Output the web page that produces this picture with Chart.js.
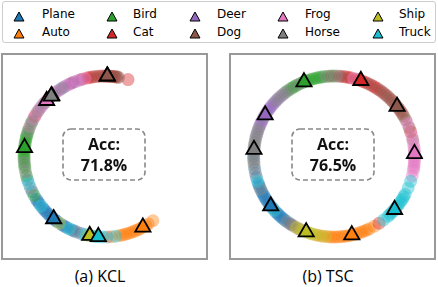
<!DOCTYPE html>
<html><head><meta charset="utf-8">
<script src="https://cdn.jsdelivr.net/npm/chart.js@4"></script>
<style>
body{margin:0;width:438px;height:287px;position:relative;background:#fff;overflow:hidden;font-family:"DejaVu Sans",sans-serif;}
#legend{position:absolute;left:2px;top:1px;width:432px;height:40px;border:1px solid #ccc;border-radius:3px;}
.lbl{position:absolute;font-size:12px;line-height:14px;color:#000;white-space:nowrap;}
.mk{position:absolute;}
.panel{position:absolute;top:53px;width:203px;height:203px;border:2px solid #999;}
.panel canvas{position:absolute;left:0;top:0;}
.accbox{position:absolute;top:128px;width:84px;height:53px;}
.acctxt{position:absolute;top:134px;width:84px;text-align:center;font-family:"Open Sans",sans-serif;font-weight:bold;font-size:16px;line-height:21px;color:#111;}
.cap{position:absolute;top:265px;width:120px;text-align:center;font-family:"Open Sans",sans-serif;font-size:16px;line-height:22px;color:#000;}
</style></head>
<body>
<div id="legend"></div>
<div class="panel" id="p0" style="left:1px"><canvas id="c0" width="203" height="203"></canvas></div>
<div class="panel" id="p1" style="left:229px"><canvas id="c1" width="203" height="203"></canvas></div>
<script>
// ---- data ----
const classNames = ['Plane','Auto','Bird','Cat','Deer','Dog','Frog','Horse','Ship','Truck'];
const classColors = ['#1f77b4','#ff7f0e','#2ca02c','#d62728','#9467bd','#8c564b','#e377c2','#7f7f7f','#bcbd22','#17becf'];
const methodNames = ['(a) KCL','(b) TSC'];
const accuracyLabels = ['71.8%','76.5%'];
// class-center angles on the ring (degrees, counter-clockwise from 3 o'clock)
const kclCenterAngle = [230.8, 298.5, 173.7, 88, 131, 88, 136, 131.4, 259.4, 265.6];
const tscCenterAngle = [218, 282.7, 112, 70.6, 149, 38.5, 2, 175, 249.7, 318.7];
// sample angles on the ring per class — KCL
const kclPlane = [197,206,212,214,216,220,222,224,226,228,230,232,234,238,240,242,246,248,253];
const kclAuto  = [275,281,283,285,287,289,291,293,295,297,299,301,303,307];
const kclBird  = [156,160,164,166,168,170,172,174,176,178,180,182,186,188,194,209];
const kclCat   = [73,82,83,85,87,89,92,94,98,100,102,106,114,150];
const kclDeer  = [108,112,116,120,124,128,132,142];
const kclDog   = [80,81,84,86,88,90,96];
const kclFrog  = [104,110,118,126,134,136,140,144,148,152,158];
const kclHorse = [122,130,138,146,154,162,184,191,203,250,272];
const kclShip  = [236,258,260];
const kclTruck = [200,218,244,256,262,264,266,269,278];
// sample angles on the ring per class — TSC
const tscPlane = [180,189,195,200,202,206,208,210,212,214,216,218,220,224,226,228,230,232,236];
const tscAuto  = [258,262,266,268,270,272,274,276,278,280,282,284,286,288,290,292,294,296,300];
const tscBird  = [90,94,98,100,102,104,106,108,110,112,114,118,120,122,126];
const tscCat   = [18,34,44,50,54,58,60,62,66,68,70,72,74,78,80,82,86,304];
const tscDeer  = [130,134,138,140,142,144,146,148,152,154,156,158,164];
const tscDog   = [12,21,27,30,32,36,38,40,42,46,48,52,56,64,84,92,238,244];
const tscFrog  = [350,352,354,356,358,0,2,4,6,9,15,24,76,346];
const tscHorse = [88,96,116,124,128,132,136,150,160,162,166,168,170,172,174,176,178,182,184,186,192,204,234,240];
const tscShip  = [242,246,248,250,252,254,256,260,264];
const tscTruck = [198,222,308,312,314,316,318,320,322,324,326,328,330,332,337,342];

const kclRings = [kclPlane,kclAuto,kclBird,kclCat,kclDeer,kclDog,kclFrog,kclHorse,kclShip,kclTruck];
const tscRings = [tscPlane,tscAuto,tscBird,tscCat,tscDeer,tscDog,tscFrog,tscHorse,tscShip,tscTruck];

// ---- helpers ----
function toXY(a){ const r = a*Math.PI/180; return {x:Math.cos(r), y:Math.sin(r)}; }
function rgba(hex, a){
  const n = parseInt(hex.slice(1),16);
  return 'rgba('+((n>>16)&255)+','+((n>>8)&255)+','+(n&255)+','+a+')';
}

// ---- legend (HTML) ----
(function(){
  const colX = [19,112,195,283,378], lblX = [42,133,217,305,399];
  const body = document.body;
  classNames.forEach((name,i)=>{
    const col = Math.floor(i/2), row = i%2;
    const svg = document.createElementNS('http://www.w3.org/2000/svg','svg');
    svg.setAttribute('width','12'); svg.setAttribute('height','11');
    svg.setAttribute('class','mk');
    svg.style.left = (colX[col]-6)+'px';
    svg.style.top = (row? 27.5 : 11)+'px';
    const p = document.createElementNS('http://www.w3.org/2000/svg','polygon');
    p.setAttribute('points','6,1 11,10 1,10');
    p.setAttribute('fill',classColors[i]); p.setAttribute('stroke','#000'); p.setAttribute('stroke-width','1');
    svg.appendChild(p); body.appendChild(svg);
    const d = document.createElement('div');
    d.className='lbl'; d.textContent=name;
    d.style.left = lblX[col]+'px'; d.style.top = (row? 24.5 : 7)+'px';
    body.appendChild(d);
  });
  // accuracy boxes and captions
  const boxX = [62,291], capX = [40,268];
  accuracyLabels.forEach((acc,i)=>{
    const svg = document.createElementNS('http://www.w3.org/2000/svg','svg');
    svg.setAttribute('width','84'); svg.setAttribute('height','53');
    svg.setAttribute('class','accbox'); svg.style.left = boxX[i]+'px';
    const r = document.createElementNS('http://www.w3.org/2000/svg','rect');
    r.setAttribute('x','1'); r.setAttribute('y','1'); r.setAttribute('width','82'); r.setAttribute('height','51');
    r.setAttribute('rx','8'); r.setAttribute('fill','none'); r.setAttribute('stroke','#888');
    r.setAttribute('stroke-width','1.6'); r.setAttribute('stroke-dasharray','5,3');
    svg.appendChild(r); body.appendChild(svg);
    const t = document.createElement('div');
    t.className='acctxt'; t.style.left = boxX[i]+'px';
    t.innerHTML = 'Acc:<br>'+acc;
    body.appendChild(t);
    const c = document.createElement('div');
    c.className='cap'; c.style.left = capX[i]+'px'; c.textContent = methodNames[i];
    body.appendChild(c);
  });
})();

// ---- charts ----
function makeChart(id, rings, centers, xShift){
  const datasets = [];
  rings.forEach((angles,c)=>{
    datasets.push({
      label: classNames[c],
      data: angles.map(toXY),
      pointRadius: 6.5,
      pointBorderWidth: 0,
      pointBackgroundColor: rgba(classColors[c],0.42),
      pointBorderColor: 'rgba(0,0,0,0)',
      backgroundColor: rgba(classColors[c],0.42),
      order: 29 - c
    });
  });
  centers.forEach((a,c)=>{
    datasets.push({
      label: classNames[c]+' center',
      data: [toXY(a)],
      pointStyle: 'triangle',
      pointRadius: 8.8,
      pointBackgroundColor: classColors[c],
      pointBorderColor: '#000',
      pointBorderWidth: 1.8,
      order: 9 - c
    });
  });
  new Chart(document.getElementById(id), {
    type: 'scatter',
    data: { datasets },
    options: {
      responsive: false, animation: false, events: [],
      layout: { padding: 0 },
      plugins: { legend: { display:false }, tooltip: { enabled:false } },
      scales: {
        x: { display:false, min: -1.13 - xShift, max: 1.13 - xShift },
        y: { display:false, min: -1.13, max: 1.13 }
      }
    }
  });
}
makeChart('c0', kclRings, kclCenterAngle, 0);
makeChart('c1', tscRings, tscCenterAngle, 0.02);
</script>
</body></html>
